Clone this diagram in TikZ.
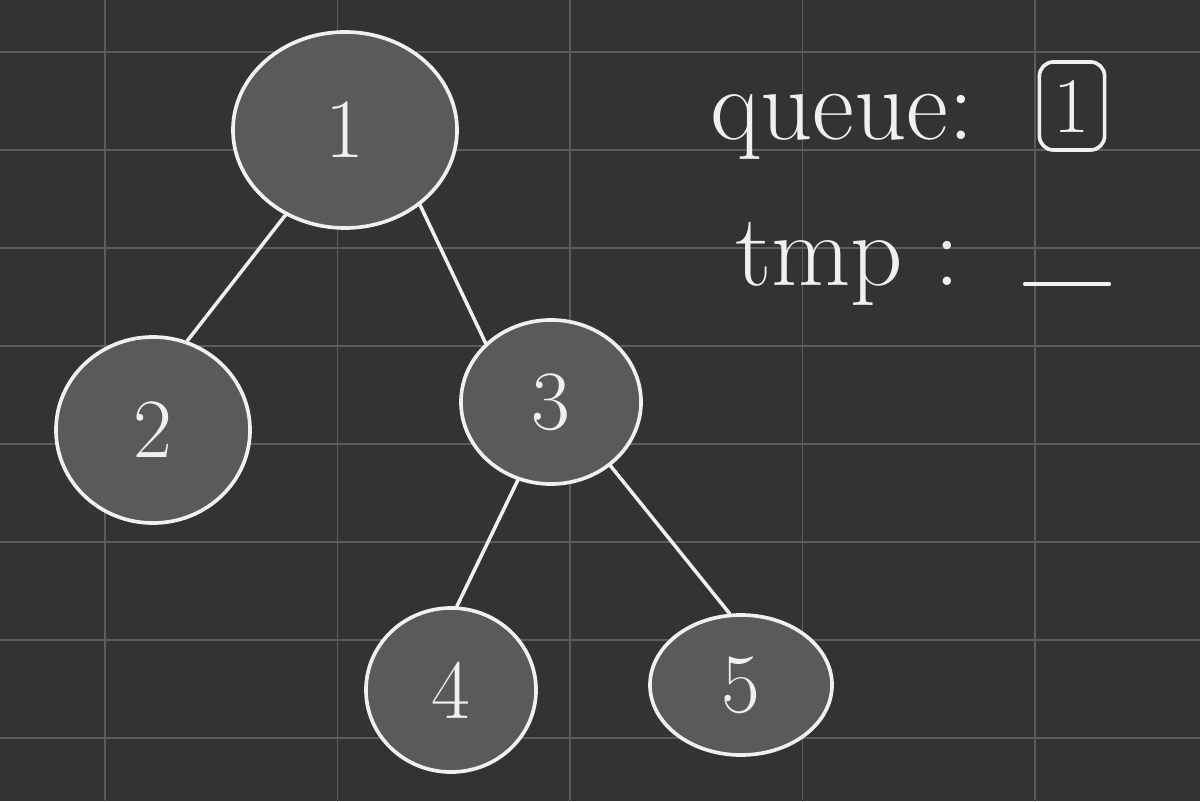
\documentclass[tikz,border=0pt]{standalone}
\usetikzlibrary{shapes.geometric}
\definecolor{pizarra}{RGB}{51,51,51}
\definecolor{rejilla}{RGB}{92,92,92}
\definecolor{relleno}{RGB}{90,90,90}
\definecolor{tiza}{RGB}{240,240,240}
\tikzset{
  nodo/.style={ellipse, draw=tiza, fill=relleno, line width=2.6pt, inner sep=0pt,
    text=tiza, font=\fontsize{60}{60}\selectfont},
  arista/.style={draw=tiza, line width=2.5pt},
  nota/.style={text=tiza, inner sep=0pt, font=\fontsize{73}{73}\selectfont},
}
\begin{document}
\begin{tikzpicture}[x=0.025cm, y=-0.025cm, line cap=round, line join=round]
  \useasboundingbox (0,0) rectangle (1200,801);
  % la pizarra y su rejilla
  \fill[pizarra] (0,0) rectangle (1200,801);
  \foreach \x in {105,337.5,570,802.5,1035} { \draw[rejilla, line width=1pt] (\x,0) -- (\x,801); }
  \foreach \y in {52,150,...,738} { \draw[rejilla, line width=1pt] (0,\y) -- (1200,\y); }
  % el árbol
  \node[nodo, minimum width=5.6cm, minimum height=4.9cm] (n1) at (345,130) {1};
  \node[nodo, minimum width=4.85cm, minimum height=4.65cm] (n2) at (153,430) {2};
  \node[nodo, minimum width=4.5cm, minimum height=4.1cm] (n3) at (551,402) {3};
  \node[nodo, minimum width=4.25cm, minimum height=4.1cm] (n4) at (451,690) {4};
  \node[nodo, minimum width=4.55cm, minimum height=3.5cm] (n5) at (741,685) {5};
  \draw[arista] (n1.235) -- (n2.69);
  \draw[arista] (n1.315) -- (n3.138);
  \draw[arista] (n3.247) -- (n4.86);
  \draw[arista] (n3.313) -- (n5.99);
  % la cola y tmp, a la derecha
  \node[nota, anchor=base west] (cola) at (710,140) {queue:};
  \node[draw=tiza, line width=2.6pt, rounded corners=10pt, minimum width=1.63cm,
    minimum height=2.2cm, inner sep=0pt, text=tiza, font=\fontsize{56}{56}\selectfont] (caja) at (1072,106) {1};
  \node[nota, anchor=base west] (tmp) at (735,285) {tmp :};
  \node[minimum width=2.1cm, inner sep=0pt] (hueco) at (1067,284) {};
  \draw[arista] (hueco.west) -- (hueco.east);
\end{tikzpicture}
\end{document}
